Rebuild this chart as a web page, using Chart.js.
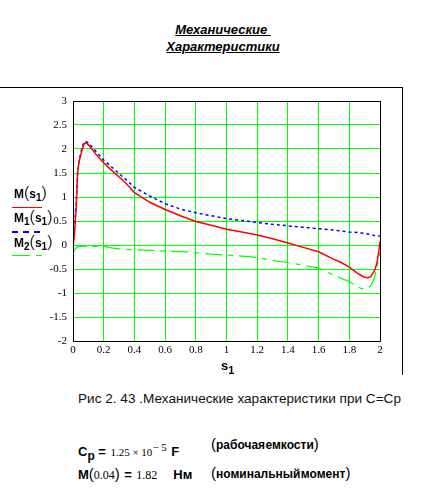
<!DOCTYPE html>
<html>
<head>
<meta charset="utf-8">
<script src="https://cdn.jsdelivr.net/npm/chart.js@4"></script>
<style>
  body { margin: 0; background: #fff; width: 423px; height: 488px; position: relative; overflow: hidden; font-family: "Liberation Sans", Arial, sans-serif; }
  .abs { position: absolute; white-space: nowrap; }
  #title { left: 0; width: 446px; top: 21px; text-align: center; font: bold italic 13px "Liberation Sans", Arial, sans-serif; text-decoration: underline; line-height: 17px; }
  #frameTop { left: 0; top: 87px; width: 402px; height: 0; border-top: 1px solid #000; }
  #frameRight { left: 402px; top: 87px; width: 0; height: 288px; border-left: 1px solid #000; }
  #wrap { position: absolute; left: 40px; top: 95px; width: 346px; height: 270px; }
  .leg { font: bold 12px "Liberation Sans", Arial, sans-serif; }
  .leg .p { font-weight: normal; font-size: 16px; color: #333; }
  .leg sub { font-size: 10px; vertical-align: -3px; }
  .ln { position: absolute; height: 0; }
  #xt { left: 221px; top: 358px; font: bold 13px "Liberation Sans", Arial, sans-serif; }
  #xt sub { font-size: 11px; vertical-align: -4px; }
  #cap { left: 78px; top: 391px; font: 13.6px "Liberation Sans", Arial, sans-serif; color: #111; }
  .f { font: bold 13px "Liberation Sans", Arial, sans-serif; }
  .n { font: 11px "Liberation Serif", "Times New Roman", serif; }
  .f sub { font-size: 12px; vertical-align: -4px; }
  .n sup { font-size: 11px; vertical-align: 5px; }
  .par { font: bold 12px "Liberation Sans", Arial, sans-serif; }
  .par .p { font-weight: normal; font-size: 15px; }
</style>
</head>
<body>
<div id="title" class="abs">Механические&nbsp;<br>Характеристики</div>
<div id="frameTop" class="abs"></div>
<div id="frameRight" class="abs"></div>
<div id="wrap"><canvas id="chart"></canvas></div>

<div class="abs leg" style="left:14px; top:184px;">M<span class="p">(</span>s<sub>1</sub><span class="p">)</span></div>
<div class="ln" style="left:12px; top:207px; width:30px; border-top:1.5px solid #ff0000;"></div>
<div class="abs leg" style="left:14px; top:208px;">M<sub>1</sub><span class="p">(</span>s<sub>1</sub><span class="p">)</span></div>
<div class="ln" style="left:12px; top:231px; width:28px; border-top:2px dashed #0000ff;"></div>
<div class="abs leg" style="left:14px; top:233px;">M<sub>2</sub><span class="p">(</span>s<sub>1</sub><span class="p">)</span></div>
<div class="ln" style="left:12px; top:255px; width:18px; border-top:1.5px solid #00ff00;"></div>
<div class="ln" style="left:36px; top:255px; width:6px; border-top:1.5px solid #00ff00;"></div>

<div id="xt" class="abs">s<sub>1</sub></div>
<div id="cap" class="abs">Рис 2. 43 .Механические характеристики при С=Ср</div>

<div class="abs" style="left:78px; top:441px;"><span class="f">C<sub>p</sub> =</span> <span class="n">1.25 × 10<sup>− 5</sup></span> <span class="f">F</span></div>
<div class="abs par" style="left:211px; top:435px;"><span class="p">(</span><span style="word-spacing:-3px">рабочая емкости</span><span class="p">)</span></div>
<div class="abs" style="left:78px; top:465px;"><span class="f">M</span><span class="f" style="font-weight:normal;font-size:15px">(</span><span class="n" style="font-size:12px">0.04</span><span class="f" style="font-weight:normal;font-size:15px">)</span> <span class="f">=</span> <span class="n" style="font-size:12px">1.82</span><span class="f" style="margin-left:16px">Нм</span></div>
<div class="abs par" style="left:211px; top:464px;"><span class="p">(</span><span style="word-spacing:-3px">номинальный момент</span><span class="p">)</span></div>

<script>
// slip values and torque curves
const slip = [0, 0.01, 0.02, 0.03, 0.04, 0.05, 0.06, 0.07, 0.08, 0.1, 0.125, 0.15, 0.2, 0.25, 0.3, 0.35, 0.4,
  0.5, 0.6, 0.7, 0.8, 0.9, 1.0, 1.1, 1.2, 1.3, 1.4, 1.5, 1.6, 1.7, 1.75, 1.8, 1.85, 1.88, 1.9, 1.92, 1.94,
  1.96, 1.97, 1.98, 1.99, 2.0];
const torqueM = [-0.05, 0.25, 0.73, 1.5, 1.75, 1.86, 2.0, 2.09, 2.13, 2.09, 1.99, 1.89, 1.71, 1.56, 1.42, 1.27, 1.09,
  0.89, 0.74, 0.61, 0.49, 0.41, 0.33, 0.27, 0.21, 0.13, 0.04, -0.05, -0.14, -0.30, -0.37, -0.46, -0.58, -0.64, -0.67, -0.68, -0.66,
  -0.56, -0.48, -0.38, -0.17, 0.07];
const torqueM1 = [0.2, 0.4, 0.8, 1.5, 1.78, 1.9, 2.04, 2.12, 2.16, 2.13, 2.04, 1.95, 1.77, 1.63, 1.49, 1.35, 1.2,
  1.02, 0.86, 0.75, 0.67, 0.61, 0.55, 0.51, 0.47, 0.43, 0.40, 0.37, 0.34, 0.31, 0.29, 0.27, 0.26, 0.25, 0.24, 0.23, 0.22,
  0.2, 0.19, 0.19, 0.19, 0.19];
const torqueM2 = [-0.17, -0.1, -0.06, -0.04, -0.03, -0.03, -0.03, -0.03, -0.03, -0.03, -0.03, -0.03, -0.03, -0.06, -0.08, -0.09, -0.10,
  -0.11, -0.125, -0.14, -0.16, -0.19, -0.21, -0.23, -0.26, -0.32, -0.37, -0.42, -0.48, -0.63, -0.70, -0.76, -0.86, -0.91, -0.92, -0.90, -0.85,
  -0.72, -0.6, -0.45, -0.3, -0.15];
const xTicks = [0, 0.2, 0.4, 0.6, 0.8, 1, 1.2, 1.4, 1.6, 1.8, 2];
const yTicks = [-2, -1.5, -1, -0.5, 0, 0.5, 1, 1.5, 2, 2.5, 3];

function pts(arr) {
  return slip.map((s, i) => ({ x: s, y: arr[i] }));
}

const boxPlugin = {
  id: 'box',
  afterDraw(chart) {
    const a = chart.chartArea;
    const ctx = chart.ctx;
    ctx.save();
    ctx.strokeStyle = '#000';
    ctx.lineWidth = 1;
    ctx.strokeRect(Math.round(a.left) + 0.5, Math.round(a.top) + 0.5, Math.round(a.right - a.left), Math.round(a.bottom - a.top));
    ctx.restore();
  }
};

const tickFont = { family: '"Liberation Serif", "Times New Roman", serif', size: 11 };

new Chart(document.getElementById('chart'), {
  type: 'line',
  data: {
    datasets: [
      { label: 'M(s1)', data: pts(torqueM), borderColor: '#ff0000', borderWidth: 1.5, pointRadius: 0, tension: 0 },
      { label: 'M1(s1)', data: pts(torqueM1), borderColor: '#0000ff', borderWidth: 1.5, borderDash: [3, 3], pointRadius: 0, tension: 0 },
      { label: 'M2(s1)', data: pts(torqueM2), borderColor: '#00ff00', borderWidth: 1.2, borderDash: [17, 6, 5, 6], pointRadius: 0, tension: 0 }
    ]
  },
  options: {
    responsive: true,
    maintainAspectRatio: false,
    animation: false,
    layout: { padding: { top: 6, right: 6, left: 0, bottom: 0 } },
    plugins: { legend: { display: false }, tooltip: { enabled: false } },
    scales: {
      x: {
        type: 'linear', min: 0, max: 2,
        afterBuildTicks: s => { s.ticks = xTicks.map(v => ({ value: v })); },
        afterFit: s => { s.height = 24; s.paddingLeft = 0; s.paddingRight = 0; },
        grid: { color: '#00ff00', lineWidth: 1, drawTicks: false },
        border: { color: '#000' },
        ticks: { font: tickFont, color: '#000', padding: 3, maxRotation: 0, autoSkip: false, callback: v => String(v) }
      },
      y: {
        type: 'linear', min: -2, max: 3,
        afterBuildTicks: s => { s.ticks = yTicks.map(v => ({ value: v })); },
        afterFit: s => { s.width = 33; s.paddingTop = 0; s.paddingBottom = 0; },
        grid: { color: '#00ff00', lineWidth: 1, drawTicks: false },
        border: { color: '#000' },
        ticks: { font: tickFont, color: '#000', padding: 6, autoSkip: false, callback: v => String(v) }
      }
    }
  },
  plugins: [boxPlugin]
});
</script>
</body>
</html>
